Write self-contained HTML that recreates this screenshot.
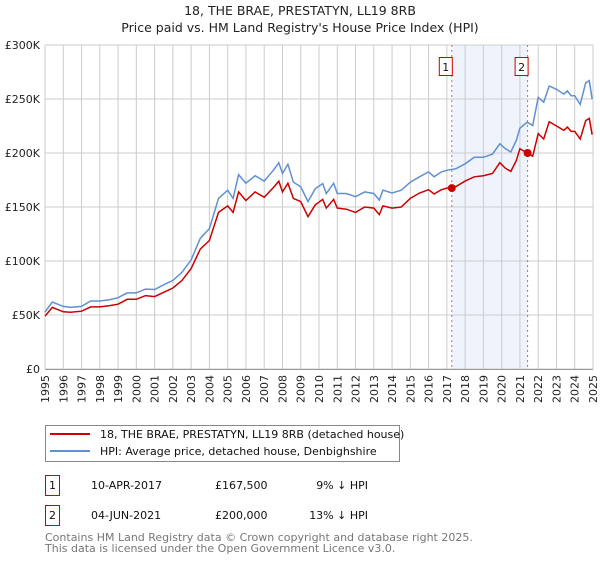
<!DOCTYPE html>
<html><head><meta charset="utf-8"><style>
body{margin:0;background:#fff;font-family:"Liberation Sans","DejaVu Sans",sans-serif;}
svg text{font-family:"DejaVu Sans","Liberation Sans",sans-serif;}
</style></head><body>
<svg id="chart" width="600" height="560" xmlns="http://www.w3.org/2000/svg">
<text x="300" y="15" text-anchor="middle" font-size="12.5" fill="#222">18, THE BRAE, PRESTATYN, LL19 8RB</text>
<text x="300" y="32" text-anchor="middle" font-size="12.5" fill="#222">Price paid vs. HM Land Registry's House Price Index (HPI)</text>
<g id="grid"></g><g id="series"></g><g id="axes"></g>
<g>
<rect x="45.5" y="425.5" width="354" height="36" fill="#fff" stroke="#888"/>
<line x1="50" y1="434" x2="90" y2="434" stroke="#cc0000" stroke-width="2"/>
<text x="100" y="438" font-size="11" fill="#111">18, THE BRAE, PRESTATYN, LL19 8RB (detached house)</text>
<line x1="50" y1="451" x2="90" y2="451" stroke="#6090d0" stroke-width="2"/>
<text x="100" y="455" font-size="11" fill="#111">HPI: Average price, detached house, Denbighshire</text>
</g>
<g font-size="11" fill="#111">
<rect x="45.5" y="475.5" width="14" height="20" fill="#fff" stroke="#cc0000"/>
<text x="49" y="489">1</text><text x="91" y="489">10-APR-2017</text><text x="215" y="489">£167,500</text><text x="368" y="489" text-anchor="end">9% ↓ HPI</text>
</g>
<g font-size="11" fill="#111">
<rect x="45.5" y="505.5" width="14" height="20" fill="#fff" stroke="#cc0000"/>
<text x="49" y="519">2</text><text x="91" y="519">04-JUN-2021</text><text x="215" y="519">£200,000</text><text x="368" y="519" text-anchor="end">13% ↓ HPI</text>
</g>
<text font-size="11" fill="#777"><tspan x="45" y="541">Contains HM Land Registry data © Crown copyright and database right 2025.</tspan><tspan x="45" y="552">This data is licensed under the Open Government Licence v3.0.</tspan></text>
</svg>
<script>
const years=[1995,1995.4,1996,1996.4,1997,1997.5,1998,1998.5,1999,1999.5,2000,2000.5,2001,2001.5,2002,2002.5,2003,2003.5,2004,2004.5,2005,2005.3,2005.6,2006,2006.5,2007,2007.5,2007.8,2008,2008.3,2008.6,2009,2009.4,2009.8,2010.2,2010.4,2010.8,2011,2011.5,2012,2012.5,2013,2013.3,2013.5,2014,2014.5,2015,2015.5,2016,2016.3,2016.7,2017,2017.5,2018,2018.5,2019,2019.5,2019.9,2020.2,2020.5,2020.8,2021,2021.4,2021.7,2022,2022.3,2022.6,2023,2023.4,2023.6,2023.8,2024,2024.3,2024.6,2024.8,2024.95];
const hpi=[52.7,62,58,57,58,63,63,64,66,70.5,70.5,74,73.6,78,82,89.5,101,121,130,158,165.6,158,180,172,179,174,184,191,181,189.5,173,168.7,155,167,171.7,162.5,172,162.5,162.5,159.5,164,162.5,156.4,165.6,163,165.6,173,178,182.5,178,182.5,184,185.5,190,196,196,199,208.5,204,201,211.6,223,228.5,225.5,251.5,247,262,259,254.5,257.5,253,253,245,265,267,250];
const price=[49,57,53,52.5,53.5,57.5,57.5,58.5,60,64.5,64.5,68,67,71,75,82,93,111,119,145,151,145,164,156,164,159,168,174,164,172,158,155,141,152,157,149,157,149,148,145,150,149,143,151,149,150,158,163,166,162,166,167.5,169,174,178,179,181,191,186,183,193,204,200,197,218,213,229,225,221,224,220,220,213,230,232,217];
const sales=[2017.27,2021.42];
const saleValues=[167.5,200];
const yTicks=[0,50,100,150,200,250,300];
const yTickLabels=["£0","£50K","£100K","£150K","£200K","£250K","£300K"];
const xTicks=[];for(let y=1995;y<=2025;y++)xTicks.push(y);
const NS="http://www.w3.org/2000/svg";
const X=v=>45+(v-1995)*(593-45)/30, Y=v=>369-v*(369-45)/300;
function mk(p,t,a){const e=document.createElementNS(NS,t);for(const k in a)e.setAttribute(k,a[k]);p.appendChild(e);return e;}
const grid=document.getElementById('grid'),ser=document.getElementById('series'),ax=document.getElementById('axes');
const shade=mk(grid,'rect',{x:X(sales[0]),y:45,width:X(sales[1])-X(sales[0]),height:324,fill:'#eef3fc'});


xTicks.forEach(t=>{const l=mk(grid,'line',{x1:X(t),x2:X(t),y1:45,y2:369,stroke:'#ccc'});


const tx=mk(ax,'text',{x:0,y:0,transform:`translate(${X(t)+4},375) rotate(-90)`,'text-anchor':'end','font-size':'11',fill:'#222'});tx.textContent=t;

});
yTicks.forEach((t,i)=>{const l=mk(grid,'line',{x1:45,x2:593,y1:Y(t),y2:Y(t),stroke:'#ccc'});


const tx=mk(ax,'text',{x:40,y:Y(t)+4,'text-anchor':'end','font-size':'11',fill:'#222'});tx.textContent=yTickLabels[i];

});
mk(ax,'line',{x1:45,x2:593,y1:369.5,y2:369.5,stroke:'#999'});
sales.forEach((s,i)=>{const l=mk(grid,'line',{x1:X(s),x2:X(s),y1:45,y2:369,stroke:'#e06060','stroke-dasharray':'2,3'});


mk(ax,'rect',{x:X(s)-12.5,y:57.5,width:13,height:18,fill:'#fff',stroke:'#cc0000'});
const tx=mk(ax,'text',{x:X(s)-6,y:71,'text-anchor':'middle','font-size':'11',fill:'#111'});tx.textContent=i+1;

});
const pts=a=>years.map((y,i)=>X(y).toFixed(1)+','+Y(a[i]).toFixed(1)).join(' ');
const hl=mk(ser,'polyline',{points:pts(hpi),fill:'none',stroke:'#6090d0','stroke-width':1.5});


const pl=mk(ser,'polyline',{points:pts(price),fill:'none',stroke:'#cc0000','stroke-width':1.5});


sales.forEach((s,i)=>{const c=mk(ser,'circle',{cx:X(s),cy:Y(saleValues[i]),r:4,fill:'#cc0000'});

});
</script>
</body></html>
